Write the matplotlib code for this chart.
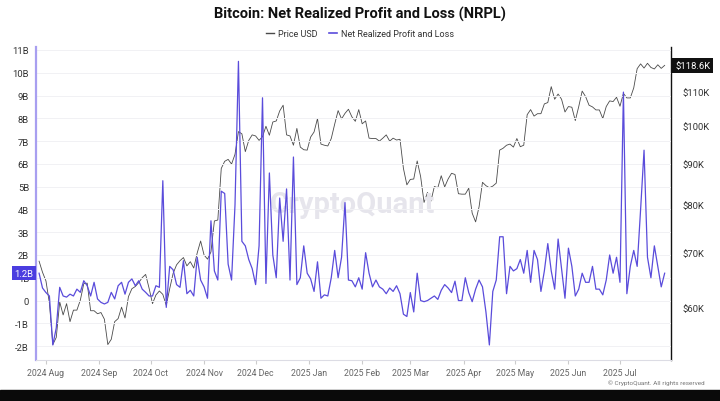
import matplotlib
matplotlib.use("Agg")
import matplotlib.pyplot as plt
import matplotlib.dates as mdates
import matplotlib.ticker as mticker
from matplotlib.lines import Line2D
import pandas as pd
import numpy as np

plt.rcParams['font.family'] = ['Roboto', 'DejaVu Sans']

start_date = "2024-07-28"

# Net Realized Profit and Loss, billions USD (2-day samples)
nrpl_b = [
    1.2, 0.55, 0.35, 0.2, -1.95, -1.2, 0.58, 0.2, 0.15, 0.28, 0.2, 0.5, 0.36, 0.87, 0.65, 0.2,
    0.8, 0.07, -0.08, -0.15, -0.08, 0.36, 0.07, 0.65, 0.8, 0.28, 0.8, 0.95, 0.65, 0.87, 0.5, 0.36,
    0.2, 0.2, 0.65, 0.58, 5.26, -0.3,
    1.5, 1.35, 0.7, 0.58, 1.75, 0.3, 0.45, 0.2, 1.9, 0.9, 0.6, 0.1, 3.5, 1.3, 0.9, 4.8, 4.7, 1.6,
    0.9, 4.2, 10.5, 2.6, 2.4, 1.8, 1.4, 0.7, 2.4, 8.9, 0.75, 5.6, 2.0, 1.0, 4.5, 2.6, 4.9, 0.9,
    6.3, 0.7, 1.0, 2.4, 1.2, 0.95, 0.4, 1.7, 0.1, 0.25, 0.2, 1.0, 2.2, 1.0, 1.9, 4.3, 0.9, 0.87,
    0.6, 1.0, 0.5, 2.1, 1.2, 0.6, 0.9, 0.6, 0.5, 0.3, 0.55, 0.4, 0.65, 0.3, -0.6, -0.7, 0.35, -0.5,
    1.2, 0.0, -0.05, 0.0, 0.1, 0.2, 0.05, 0.45, 0.7, 0.55, 0.35, 0.85, 0.0, 0.0, 1.0, 0.35, -0.05,
    0.5, 0.9, 0.6, -0.5, -1.95, 0.4, 0.9, 2.8, 2.8, 0.3, 1.5, 1.3, 1.4, 1.8, 1.2, 2.2, 0.8, 2.2, 1.8,
    0.4, 1.3, 2.5, 1.3, 0.5, 2.7, 1.4, 0.1, 2.3, 1.5, 0.2, 0.5, 1.2, 0.8, 0.8, 1.5, 0.5, 0.5, 0.25,
    0.9, 2.0, 1.2, 1.9, 0.8, 9.15, 0.3, 1.5, 2.2, 1.5, 4.0, 6.6, 1.9, 1.0, 2.4, 1.5, 0.6, 1.2,
]

# Bitcoin price, thousands USD (2-day samples)
price_k = [
    68.3, 66.2, 64.6, 60.7, 54.0, 55.1, 60.9, 58.7, 60.6, 57.6, 59.5, 59.5, 61.2, 64.1, 64.2, 59.4,
    59.4, 58.9, 59.1, 58.0, 54.0, 54.8, 57.6, 58.1, 60.0, 58.2, 61.8, 63.2, 63.6, 64.3, 65.2, 65.8,
    63.3, 60.6, 62.1, 62.8, 62.2, 60.3, 63.2, 66.0, 67.6, 68.4, 69.0, 67.4, 68.2, 67.0, 69.9, 72.3,
    69.5, 68.7, 70.1, 76.5, 76.7, 88.7, 90.5, 91.0, 89.8, 92.3, 98.4, 97.8, 93.0, 96.0, 97.5, 97.2,
    96.0, 97.0, 99.9, 97.4, 101.1, 101.4, 104.3, 106.0, 97.5, 97.2, 94.7, 99.3, 94.2, 93.5, 93.4,
    96.9, 98.3, 102.1, 95.0, 94.7, 94.5, 96.5, 100.5, 104.4, 102.0, 103.6, 104.8, 102.6, 101.3,
    104.7, 100.6, 101.4, 96.6, 96.5, 96.5, 95.8, 96.6, 97.5, 95.8, 96.6, 96.1, 96.3, 88.7, 84.7,
    86.0, 86.1, 90.6, 86.7, 80.6, 82.9, 80.9, 84.3, 84.0, 86.9, 84.2, 86.1, 87.5, 87.2, 82.6, 82.5,
    82.5, 83.9, 78.2, 76.3, 79.6, 85.3, 84.5, 84.0, 84.4, 85.1, 93.4, 93.9, 94.7, 95.0, 94.2, 96.5,
    94.3, 94.7, 103.2, 104.7, 102.8, 103.5, 103.5, 106.4, 106.8, 111.7, 107.8, 109.4, 107.8, 104.0,
    105.6, 105.4, 101.5, 105.6, 110.3, 108.6, 106.0, 105.5, 104.6, 104.6, 102.1, 105.6, 107.3,
    107.1, 108.4, 105.7, 109.6, 108.2, 108.2, 111.3, 117.5, 119.1, 117.7, 119.3, 117.9, 117.4,
    118.8, 117.6, 118.6,
]

left_ticks = list(range(-2, 12))
right_ticks_k = [60, 70, 80, 90, 100, 110]
month_ticks = pd.date_range("2024-08-01", "2025-07-01", freq="MS")

dates = pd.date_range(start_date, periods=len(nrpl_b), freq="2D")
price = np.array(price_k) * 1000.0

PURPLE = "#5a4cdb"
GRAY_LINE = "#4a4a4a"

fig = plt.figure(figsize=(7.2, 4.02), dpi=100)
fig.patch.set_facecolor("white")
ax = fig.add_axes([0.05, 0.102, 0.882, 0.7786])
ax2 = ax.twinx()

# NRPL on left axis
ax.plot(dates, nrpl_b, color=PURPLE, lw=0.9, zorder=3)
ax.set_ylim(-2.61, 11.13)
ax.set_yticks(left_ticks)
ax.yaxis.set_major_formatter(mticker.FuncFormatter(lambda v, p: "0" if v == 0 else f"{int(v)}B"))
ax.grid(axis="y", color="#f1f1f4", lw=0.7)
ax.set_axisbelow(True)

# Price on right log axis
ax2.plot(dates, price, color=GRAY_LINE, lw=0.6, zorder=2)
ax2.set_yscale("log")
ax2.set_ylim(51700, 124900)
ax2.yaxis.set_major_locator(mticker.FixedLocator([v * 1000 for v in right_ticks_k]))
ax2.yaxis.set_minor_locator(mticker.NullLocator())
ax2.yaxis.set_major_formatter(mticker.FuncFormatter(lambda v, p: f"${int(round(v/1000))}K"))

ax.set_zorder(ax2.get_zorder() + 1)
ax.patch.set_visible(False)

x0 = pd.Timestamp("2024-07-26 05:00")
x1 = pd.Timestamp("2025-07-30 17:00")
ax.set_xlim(x0, x1)
ax.set_xticks(month_ticks)
ax.xaxis.set_major_formatter(mdates.DateFormatter("%Y %b"))

for a in (ax, ax2):
    for s in a.spines.values():
        s.set_visible(False)

ax.spines["left"].set_visible(True)
ax.spines["left"].set_color("#a89ff0")
ax.spines["left"].set_linewidth(1.6)
ax.spines["bottom"].set_visible(True)
ax.spines["bottom"].set_color("#dcdce4")
ax.spines["bottom"].set_linewidth(0.8)
ax2.spines["right"].set_visible(True)
ax2.spines["right"].set_color("#111111")
ax2.spines["right"].set_linewidth(1.0)

ax.tick_params(axis="y", length=0, labelsize=6.8, labelcolor="#333333", pad=5)
ax.tick_params(axis="x", length=3, color="#cccccc", labelsize=6.3, labelcolor="#666666", pad=2.5)
ax2.tick_params(axis="y", length=0, labelsize=6.8, labelcolor="#333333", pad=8)

# Last value tags
ax.annotate("1.2B", xy=(0, nrpl_b[-1]), xycoords=("axes fraction", "data"),
            xytext=(-2, 0), textcoords="offset points", ha="right", va="center",
            fontsize=6.8, color="white",
            bbox=dict(boxstyle="square,pad=0.25", fc="#4b3de0", ec="none"), zorder=10,
            annotation_clip=False)
ax2.annotate(f"${price_k[-1]}K", xy=(1, price[-1]), xycoords=("axes fraction", "data"),
             xytext=(3, 0), textcoords="offset points", ha="left", va="center",
             fontsize=6.8, color="white",
             bbox=dict(boxstyle="square,pad=0.3", fc="#111111", ec="none"), zorder=10,
             annotation_clip=False)

# Title and legend
fig.text(0.5, 0.963, "Bitcoin: Net Realized Profit and Loss (NRPL)", ha="center", va="center",
         fontsize=10.5, fontweight="bold", color="#111111")
handles = [Line2D([], [], color=GRAY_LINE, lw=1.0), Line2D([], [], color=PURPLE, lw=1.2)]
fig.legend(handles, ["Price USD", "Net Realized Profit and Loss"], loc="center",
           bbox_to_anchor=(0.5, 0.914), ncol=2, frameon=False, fontsize=6.5,
           handlelength=0.9, handletextpad=0.4, columnspacing=1.3, labelcolor="#333333")

# Watermark
fig.text(0.49, 0.49, "CryptoQuant", ha="center", va="center", fontsize=21,
         fontweight="bold", color="#e6e5ec", zorder=0)

# Copyright
fig.text(0.978, 0.047, "\u00a9 CryptoQuant. All rights reserved", ha="right", va="center",
         fontsize=4.6, color="#777777")

# Bottom dark band
fig.patches.append(plt.Rectangle((0, 0), 1, 0.027, transform=fig.transFigure,
                                 color="#0a0a0a", zorder=0))

fig.savefig("out.png", dpi=100)
